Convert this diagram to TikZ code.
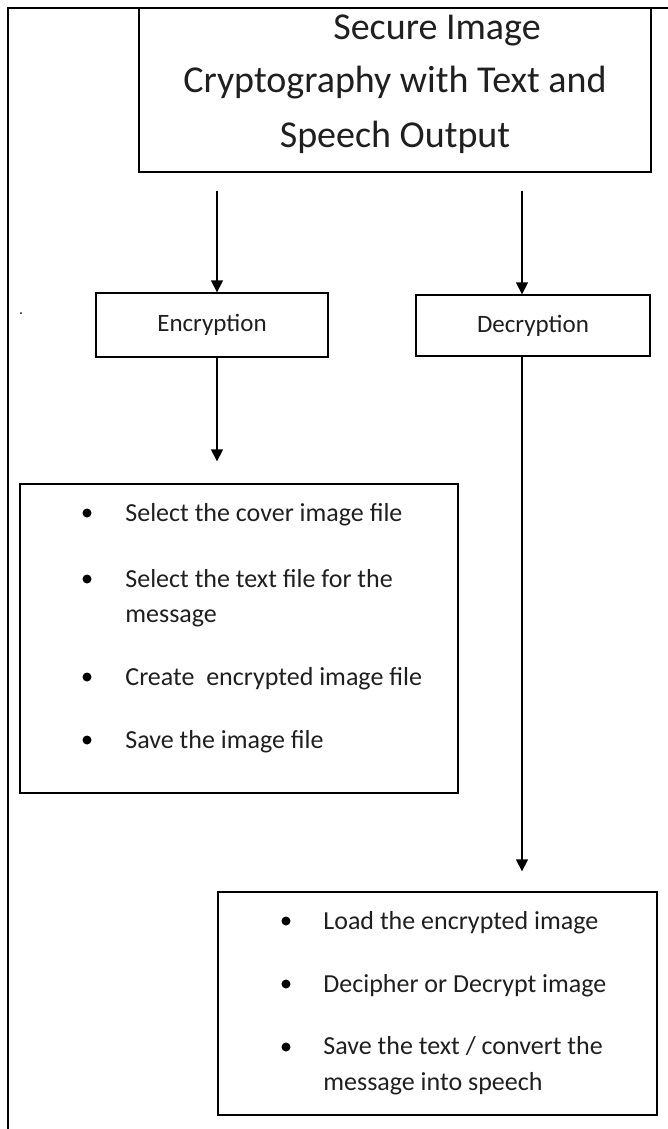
\documentclass[tikz,border=0pt]{standalone}
\usepackage{fontspec}
\setmainfont{Carlito}
\usetikzlibrary{arrows.meta,positioning}

\begin{document}
\begin{tikzpicture}[x=1pt, y=-1pt, thick,
  box/.style = {draw, line width=1.3pt, inner sep=0pt},
  head/.style = {anchor=base, inner sep=0pt, text=black!88, font=\fontsize{38}{45}\selectfont},
  step label/.style = {text=black!88, font=\fontsize{25}{30}\selectfont},
  item/.style = {anchor=base west, inner sep=0pt, text=black!88, font=\fontsize{26}{31}\selectfont},
  bul/.style = {circle, fill, inner sep=0pt, minimum size=9pt},
  arr/.style = {-{Triangle[length=12pt, width=12pt]}, line width=1.3pt}]
  \useasboundingbox (0,0) rectangle (668,1129);

  % page frame
  \draw[line width=1.3pt] (8,1129) -- (8,8) -- (668,8);
  \fill (21,313) circle (1pt);

  % title
  \node[box, minimum width=512pt, minimum height=164pt] (title) at (395,90) {};
  \node[head] (t1) at (437,40) {Secure Image};
  \node[head] (t2) at (395,93) {Cryptography with Text and};
  \node[head] (t3) at (395,147) {Speech Output};

  % two branches
  \node[box, step label, minimum width=232pt, minimum height=64pt] (enc) at (212,325) {Encryption};
  \node[box, step label, minimum width=234pt, minimum height=61pt] (dec) at (533,325.5) {Decryption};

  \node[box, minimum width=438pt, minimum height=309pt] (enclist) at (239,638.5) {};
  \node[box, minimum width=439pt, minimum height=223pt] (declist) at (437.5,1003.5) {};

  \coordinate (encin) at ([xshift=5pt]enc.north);
  \coordinate (encout) at ([xshift=5pt]enc.south);
  \coordinate (decin) at ([xshift=-11pt]dec.north);
  \coordinate (decout) at ([xshift=-11pt]dec.south);
  \draw[arr, shorten <=18pt] (encin |- title.south) -- (encin);
  \draw[arr, shorten <=18pt] (decin |- title.south) -- (decin);
  \draw[arr, shorten >=22pt] (encout) -- (encout |- enclist.north);
  \draw[arr, shorten >=20pt] (decout) -- (decout |- declist.north);

  % encryption steps
  \node[bul] (eb1) at (87,513) {};
  \node[item] (e1) at (125,521) {Select the cover image file};
  \node[bul] (eb2) at (87,579) {};
  \node[item] (e2) at (125,587) {Select the text file for the};
  \node[item] (e2x) at (125,622) {message};
  \node[bul] (eb3) at (87,677) {};
  \node[item] (e3) at (125,685) {Create\ \ encrypted image file};
  \node[bul] (eb4) at (87,740) {};
  \node[item] (e4) at (125,748) {Save the image file};

  % decryption steps
  \node[bul] (db1) at (286,921) {};
  \node[item] (d1) at (323,929) {Load the encrypted image};
  \node[bul] (db2) at (286,984) {};
  \node[item] (d2) at (323,992) {Decipher or Decrypt image};
  \node[bul] (db3) at (286,1047) {};
  \node[item] (d3) at (323,1054) {Save the text / convert the};
  \node[item] (d3x) at (323,1090) {message into speech};
\end{tikzpicture}
\end{document}
